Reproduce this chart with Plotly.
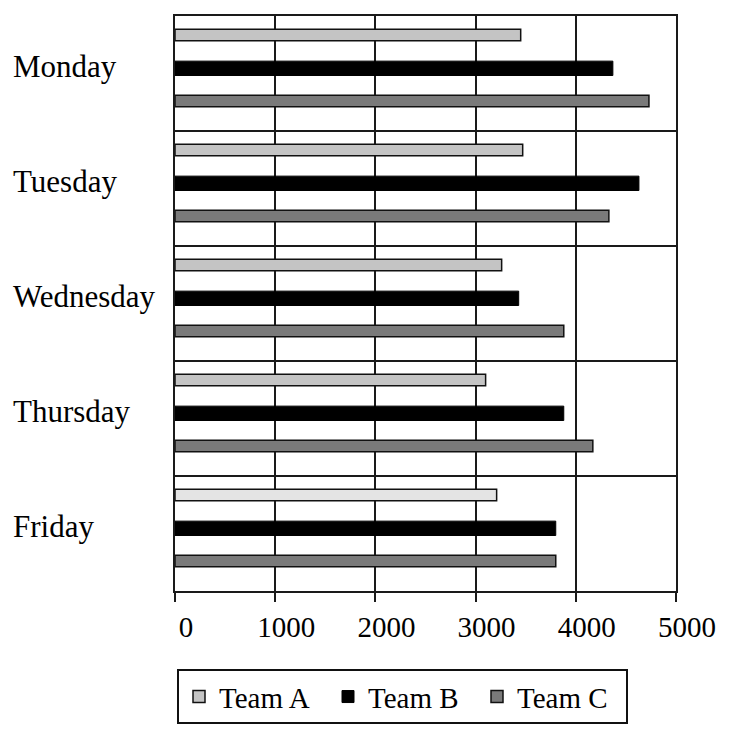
import plotly.graph_objects as go

days = ["Monday", "Tuesday", "Wednesday", "Thursday", "Friday"]
team_a = [3450, 3470, 3260, 3100, 3210]
team_b = [4370, 4630, 3430, 3880, 3800]
team_c = [4730, 4330, 3880, 4170, 3800]
x_ticks = [0, 1000, 2000, 3000, 4000, 5000]

FONT = "Liberation Serif"
colors_a = ["#c4c4c4", "#c4c4c4", "#c4c4c4", "#c4c4c4", "#e4e4e4"]

fig = go.Figure()
fig.add_trace(go.Bar(name="Team A", y=days, x=team_a, orientation="h",
                     width=0.1, offset=-0.385,
                     marker=dict(color=colors_a, line=dict(color="#111111", width=1.5))))
fig.add_trace(go.Bar(name="Team B", y=days, x=team_b, orientation="h",
                     width=0.125, offset=-0.1075,
                     marker=dict(color="#000000", line=dict(color="#000000", width=1))))
fig.add_trace(go.Bar(name="Team C", y=days, x=team_c, orientation="h",
                     width=0.1, offset=0.19,
                     marker=dict(color="#7a7a7a", line=dict(color="#111111", width=1.5))))

for d in days:
    fig.add_annotation(text=d, xref="paper", yref="y", x=-164 / 501, y=d,
                       xanchor="left", yanchor="middle", yshift=7, showarrow=False,
                       font=dict(family=FONT, size=31, color="#000000"))

fig.update_layout(
    width=730, height=722,
    margin=dict(l=167, r=62, t=6, b=135),
    paper_bgcolor="white", plot_bgcolor="white",
    barmode="overlay",
    showlegend=True,
    font=dict(family=FONT, size=29, color="#000000"),
    legend=dict(orientation="h", xref="paper", yref="paper",
                x=2 / 501, y=-(674 - 595) / 581, xanchor="left", yanchor="top",
                bordercolor="#111111", borderwidth=2, bgcolor="white",
                font=dict(family=FONT, size=29, color="#000000"),
                entrywidth=104, entrywidthmode="pixels", traceorder="normal"),
    xaxis=dict(range=[0, 5000], tickvals=x_ticks, ticktext=[str(v) for v in x_ticks],
               showgrid=True, gridcolor="#1a1a1a", gridwidth=2,
               showline=True, linecolor="#1a1a1a", linewidth=2, mirror=True,
               ticks="outside", ticklen=9, tickwidth=2, tickcolor="#1a1a1a",
               ticklabelshift=11, zeroline=False,
               tickfont=dict(family=FONT, size=29, color="#000000")),
    yaxis=dict(autorange="reversed", type="category", tickson="boundaries",
               showgrid=True, gridcolor="#1a1a1a", gridwidth=2,
               showline=True, linecolor="#1a1a1a", linewidth=2, mirror=True,
               ticks="", showticklabels=False),
)

fig.write_html("out.html")
